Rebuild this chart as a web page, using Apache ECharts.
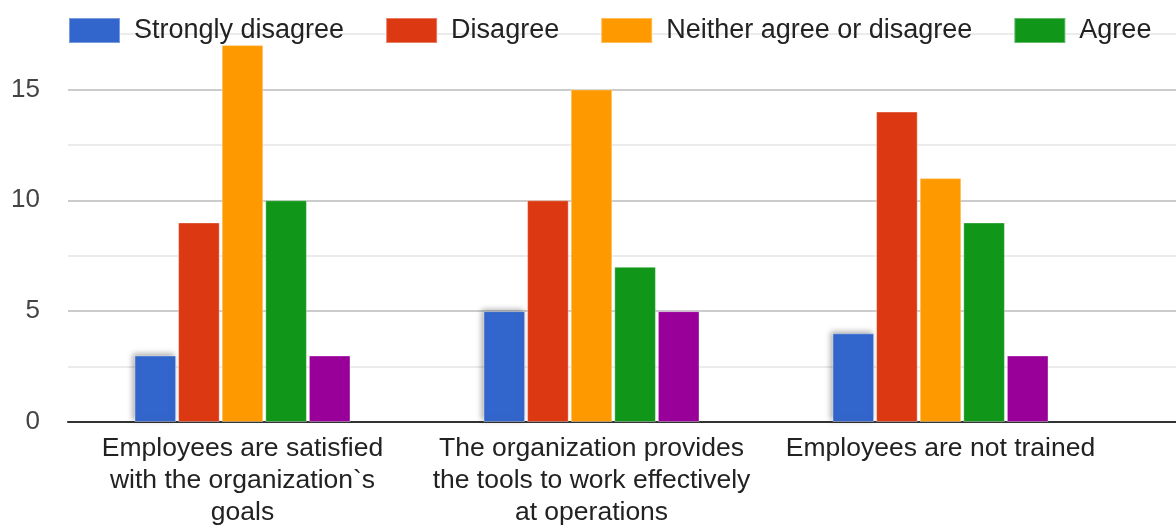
<!DOCTYPE html>
<html>
<head>
<meta charset="utf-8">
<title>Survey responses</title>
<script src="https://cdn.jsdelivr.net/npm/echarts@6/dist/echarts.min.js"></script>
<style>
  html, body { margin: 0; padding: 0; background: #ffffff; }
  #chart { width: 1176px; height: 528px; }
</style>
</head>
<body>
<div id="chart"></div>
<script>
// Statements (fourth column continues past the right edge of the view)
const categories = [
  'Employees are satisfied\nwith the organization`s\ngoals',
  'The organization provides\nthe tools to work effectively\nat operations',
  'Employees are not trained',
  ''
];

const seriesNames = [
  'Strongly disagree',
  'Disagree',
  'Neither agree or disagree',
  'Agree',
  'Strongly agree'
];

// Response counts per statement
const stronglyDisagree = [3, 5, 4, null];
const disagree         = [9, 10, 14, null];
const neither          = [17, 15, 11, null];
const agree            = [10, 7, 9, null];
const stronglyAgree    = [3, 5, 3, null];

const seriesValues = [stronglyDisagree, disagree, neither, agree, stronglyAgree];
const seriesColors = ['#3366cc', '#dc3912', '#ff9900', '#109618', '#990099'];

const yTicks = { min: 0, max: 17.5, step: 2.5, labelEvery: 5 };

const FONT = "'Liberation Sans', Arial, sans-serif";
const VIEW_W = 1176;
const PLOT_LEFT = 68;
const BAND = 349;

const chart = echarts.init(document.getElementById('chart'), null, { renderer: 'canvas' });

const series = seriesNames.map((name, i) => {
  const itemStyle = {
    color: seriesColors[i],
    borderColor: 'rgba(255,255,255,0.35)',
    borderWidth: 1
  };
  if (i === 0) {
    itemStyle.shadowColor = 'rgba(0,0,0,0.35)';
    itemStyle.shadowBlur = 6;
    itemStyle.shadowOffsetX = -2;
    itemStyle.shadowOffsetY = -2;
  }
  return {
    name: name,
    type: 'bar',
    data: seriesValues[i],
    barWidth: 41.6,
    barGap: '4.8%',
    itemStyle: itemStyle,
    emphasis: { disabled: true }
  };
});

chart.setOption({
  animation: false,
  textStyle: { fontFamily: FONT },
  color: seriesColors,
  legend: {
    data: seriesNames,
    left: PLOT_LEFT - 5,
    top: 12,
    width: 2400,
    orient: 'horizontal',
    icon: 'rect',
    itemWidth: 51,
    itemHeight: 25,
    itemGap: 41,
    selectedMode: false,
    textStyle: {
      fontFamily: FONT,
      fontSize: 27,
      color: '#222222',
      padding: [0, 0, 0, 9]
    }
  },
  grid: {
    left: PLOT_LEFT,
    top: 34,
    bottom: 106,
    right: VIEW_W - PLOT_LEFT - BAND * categories.length,
    outerBoundsMode: 'none',
    containLabel: false
  },
  xAxis: {
    type: 'category',
    data: categories,
    axisTick: { show: false },
    axisLine: { show: true, lineStyle: { color: '#333333', width: 2 } },
    axisLabel: {
      interval: 0,
      fontFamily: FONT,
      fontSize: 26.5,
      color: '#222222',
      lineHeight: 32,
      margin: 11,
      align: 'center'
    },
    splitLine: { show: false }
  },
  yAxis: {
    type: 'value',
    min: yTicks.min,
    max: yTicks.max,
    interval: yTicks.step,
    axisLine: { show: false },
    axisTick: { show: false },
    axisLabel: {
      fontFamily: FONT,
      fontSize: 26,
      color: '#444444',
      margin: 28,
      formatter: v => (v % yTicks.labelEvery === 0 ? String(v) : '')
    },
    splitLine: {
      show: true,
      lineStyle: { color: ['#cccccc', '#ebebeb'], width: 2 }
    }
  },
  series: series
});
</script>
</body>
</html>
